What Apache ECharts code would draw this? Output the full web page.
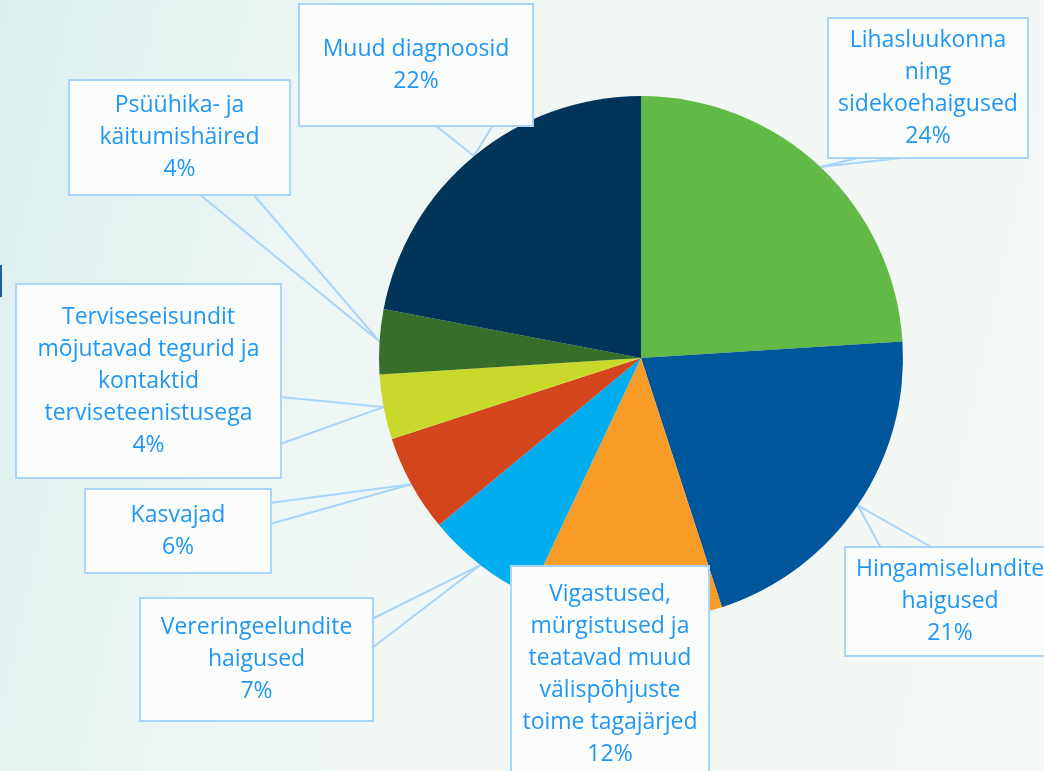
<!DOCTYPE html>
<html>
<head>
<meta charset="utf-8">
<script src="https://cdn.jsdelivr.net/npm/echarts@6/dist/echarts.min.js"></script>
<style>
  html, body { margin: 0; padding: 0; }
  #chart { width: 1044px; height: 771px; }
</style>
</head>
<body>
<div id="chart"></div>
<script>
// slices, clockwise from 12 o'clock
var names = [
  'Lihasluukonna ning sidekoehaigused',
  'Hingamiselundite haigused',
  'Vigastused, mürgistused ja teatavad muud välispõhjuste toime tagajärjed',
  'Vereringeelundite haigused',
  'Kasvajad',
  'Terviseseisundit mõjutavad tegurid ja kontaktid terviseteenistusega',
  'Psüühika- ja käitumishäired',
  'Muud diagnoosid'
];
var labelNames = [
  'Lihasluukonna\nning\nsidekoehaigused',
  'Hingamiselundite\nhaigused',
  'Vigastused,\nmürgistused ja\nteatavad muud\nvälispõhjuste\ntoime tagajärjed',
  'Vereringeelundite\nhaigused',
  'Kasvajad',
  'Terviseseisundit\nmõjutavad tegurid ja\nkontaktid\nterviseteenistusega',
  'Psüühika- ja\nkäitumishäired',
  'Muud diagnoosid'
];
var values = [24, 21, 12, 7, 6, 4, 4, 22];
var colors = ['#62b946', '#00569b', '#f89c27', '#00aeef', '#d2451d', '#c8d92b', '#376e29', '#003459'];

// callout boxes: left, top, width, height
var boxes = [
  [829, 19, 198, 138],
  [846, 548, 208, 107],
  [512, 567, 196, 214],
  [141, 599, 231, 121],
  [86, 490, 184, 82],
  [17, 285, 263, 192],
  [70, 81, 219, 113],
  [300, 5, 232, 120]
];
// base of the callout wedge on the box edge
var wedges = [
  [862, 157, 910, 157],
  [881, 548, 933, 548],
  [560, 567, 600, 567],
  [372, 619, 372, 648],
  [270, 503, 270, 524],
  [280, 397, 280, 444],
  [199, 194, 253, 194],
  [435, 125, 493, 125]
];

var myChart = echarts.init(document.getElementById('chart'));
var lineH = 32;

var data = values.map(function (v, i) {
  var b = boxes[i];
  var n = labelNames[i].split('\n').length + 1;
  var pad = Math.max(0, (b[3] - n * lineH) / 2);
  return {
    value: v,
    name: names[i],
    itemStyle: { color: colors[i] },
    label: { width: b[2], padding: [pad, 0, pad, 0] }
  };
});

var option = {
  backgroundColor: {
    type: 'linear', x: 0, y: 0, x2: 1, y2: 0.3,
    colorStops: [
      { offset: 0, color: '#dcefed' },
      { offset: 0.35, color: '#eef6f4' },
      { offset: 1, color: '#f4f8f4' }
    ]
  },
  animation: false,
  graphic: [
    // cut-off mark at the left edge of the slide
    { type: 'rect', left: 0, top: 265, shape: { width: 2, height: 32 }, style: { fill: '#1f5f9a' } }
  ],
  series: [
    {
      type: 'pie',
      center: [641, 358],
      radius: 262,
      startAngle: 90,
      clockwise: true,
      avoidLabelOverlap: false,
      emphasis: { disabled: true },
      itemStyle: { borderWidth: 0 },
      label: {
        show: true,
        position: 'outside',
        fontFamily: 'Open Sans',
        fontSize: 23,
        lineHeight: lineH,
        color: '#2196f3',
        backgroundColor: '#fbfdfc',
        borderColor: '#a9d5fa',
        borderWidth: 2,
        formatter: function (p) {
          return labelNames[p.dataIndex] + '\n' + p.percent + '%';
        }
      },
      labelLine: {
        show: true,
        smooth: false,
        minTurnAngle: 0,
        maxSurfaceAngle: 180,
        lineStyle: { color: '#a9d5fa', width: 2 }
      },
      labelLayout: function (params) {
        var i = params.dataIndex;
        var b = boxes[i];
        var w = wedges[i];
        var res = {
          x: b[0] + b[2] / 2,
          y: b[1] + b[3] / 2,
          align: 'center',
          verticalAlign: 'middle'
        };
        if (params.labelLinePoints) {
          res.labelLinePoints = [[w[0], w[1]], params.labelLinePoints[0], [w[2], w[3]]];
        }
        return res;
      },
      data: data
    }
  ]
};

myChart.setOption(option);
</script>
</body>
</html>
